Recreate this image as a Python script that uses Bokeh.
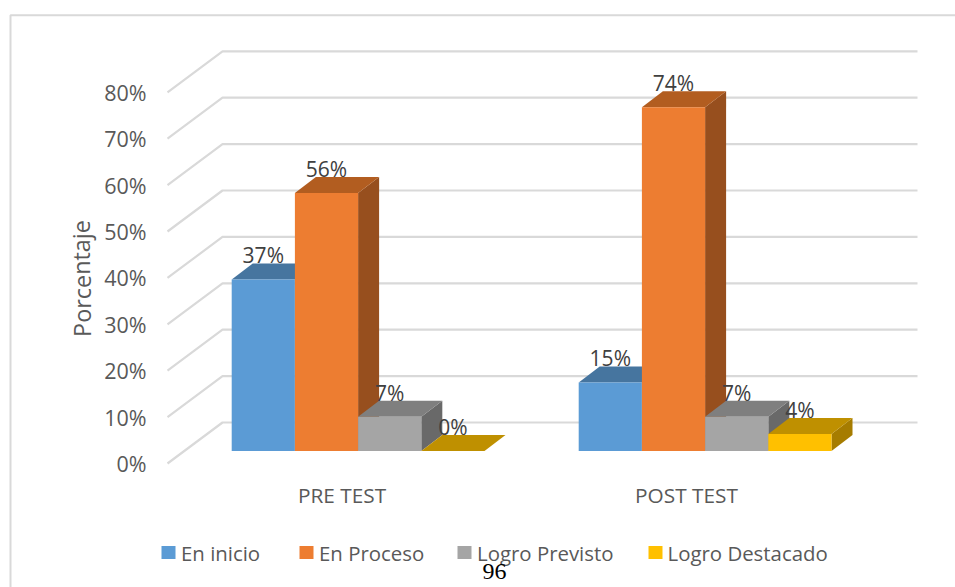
from bokeh.plotting import figure
from bokeh.core.properties import value
from bokeh.embed import file_html
from bokeh.resources import INLINE
from bokeh.models import Range1d

# ---- data ----
groups = ["PRE TEST", "POST TEST"]
series = ["En inicio", "En Proceso", "Logro Previsto", "Logro Destacado"]
pre_test = [37.0, 55.6, 7.4, 0.0]
post_test = [14.8, 74.1, 7.4, 3.7]
ticks = [0, 10, 20, 30, 40, 50, 60, 70, 80]
axis_title = "Porcentaje"
page_number = "96"

# ---- style ----
front = ["#5B9BD5", "#ED7D31", "#A5A5A5", "#FFC000"]
top = ["#46759F", "#B25D20", "#7F7F7F", "#BF9000"]
side = ["#3F6A91", "#974F1E", "#696969", "#A67C00"]
grid = "#D9D9D9"
txt = "#595959"
lab = "#404040"
FONT = value("Open Sans")

# ---- layout (pixels on the page) ----
W, H = 955, 587
PX = 4.64              # pixels per percentage point
BASE = 450.6           # page y of 0% on the bar plane
BW = 63.2              # bar width
DX, DY = 21, 16        # depth of a bar
group_x = [231.2, 578.2]
group_label_x = [341.5, 686]
legend_box_x = [161, 299, 457, 648]
legend_text_x = [180.5, 318.5, 476.5, 667]

def Y(py):
    return (BASE - py) / PX

p = figure(width=W, height=H, output_backend="svg", toolbar_location=None,
           x_range=Range1d(0, 955), y_range=Range1d(Y(587), Y(0)),
           min_border=0, min_border_left=0, min_border_right=0,
           min_border_top=0, min_border_bottom=0, background_fill_color="white")
p.axis.visible = False
p.grid.visible = False
p.outline_line_color = None
d = DY / PX

# outer border
p.line([10, 10, 955], [Y(587), Y(14.7), Y(14.7)], line_color=grid, line_width=2)

# 3D gridlines
back_off, front_off = (BASE - 422) / PX, (BASE - 463) / PX
for t in ticks:
    p.line([167, 222, 917], [t + front_off, t + back_off, t + back_off],
           line_color=grid, line_width=2.2)

# axis labels
p.text([146] * len(ticks), [t + front_off for t in ticks], text=[f"{t}%" for t in ticks],
       text_font=FONT, text_font_size="21.5px", text_color=txt,
       text_align="right", text_baseline="middle")
p.text([81], [Y(278)], text=[axis_title], angle=1.5708, text_font=FONT, text_font_size="23.4px",
       text_color=txt, text_align="center", text_baseline="middle")

# bars
for gx, vals in zip(group_x, [pre_test, post_test]):
    for i, v in enumerate(vals):
        x0 = gx + i * BW
        x1 = x0 + BW
        xd = DX
        p.patch([x1, x1 + xd, x1 + xd, x1], [0, d, v + d, v], fill_color=side[i], line_color=None)
        p.patch([x0, x1, x1 + xd, x0 + xd], [v, v, v + d, v + d], fill_color=top[i], line_color=None)
        if v > 0:
            p.quad(left=[x0], right=[x1], bottom=[0], top=[v], fill_color=front[i], line_color=None)
    for i, v in enumerate(vals):
        p.text([gx + (i + .5) * BW], [v], text=[f"{round(v)}%"], y_offset=-24,
               text_font=FONT, text_font_size="21px", text_color=lab,
               text_align="center", text_baseline="middle")

# group labels
p.text(group_label_x, [Y(494.5)] * 2, text=groups, text_font=FONT, text_font_size="20.8px",
       text_color=txt, text_align="center", text_baseline="middle")

# legend
for i, s in enumerate(series):
    p.quad(left=[legend_box_x[i]], right=[legend_box_x[i] + 14], top=[Y(545.5)], bottom=[Y(558.5)],
           fill_color=front[i], line_color=None)
    p.text([legend_text_x[i]], [Y(552.5)], text=[s], text_font=FONT, text_font_size="20.4px",
           text_color=txt, text_align="left", text_baseline="middle")

# page number
p.text([494], [Y(578)], text=[page_number], text_font=value("Liberation Serif"), text_font_size="24px",
       text_color="black", text_align="center", text_baseline="bottom")

open("out.html", "w").write(file_html(p, INLINE))
